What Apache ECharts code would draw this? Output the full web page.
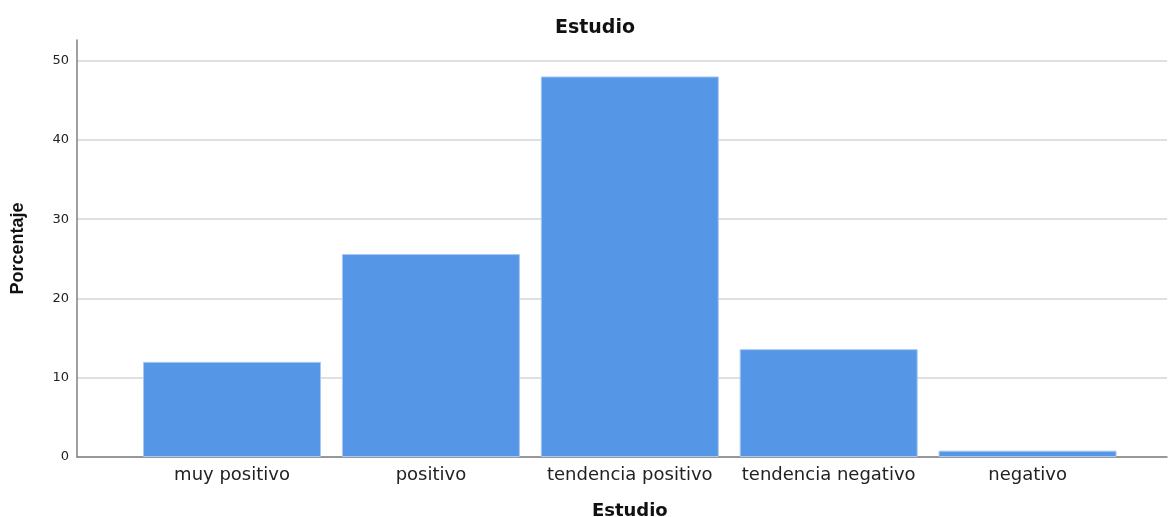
<!DOCTYPE html>
<html lang="es">
<head>
    <meta charset="UTF-8">
    <title>Estudio</title>
    <script src="https://cdn.jsdelivr.net/npm/echarts@6.0.0/dist/echarts.min.js"></script>
</head>
<body style="margin:0">
<div id="chart" style="width: 1169px;height:517px;"></div>
</body>
<script>
    var categories = ['muy positivo', 'positivo', 'tendencia positivo', 'tendencia negativo', 'negativo'];
    var porcentaje = [12.0, 25.6, 48.0, 13.6, 0.8];
    var yTicks = [0, 10, 20, 30, 40, 50];

    var yTop = 52.6;
    var font = '"DejaVu Sans", sans-serif';

    echarts.init(document.getElementById('chart')).setOption({
        animation: false,
        title: {
            text: 'Estudio',
            left: 590,
            textAlign: 'center',
            top: 14,
            textStyle: {fontFamily: font, fontSize: 19, fontWeight: 'bold', color: '#111'}
        },
        grid: [
            {left: 77, right: 2, top: 40, bottom: 60, outerBoundsMode: 'none'},
            {left: 132.6, right: 42, top: 40, bottom: 60, outerBoundsMode: 'none'}
        ],
        xAxis: [
            {
                gridIndex: 0, type: 'value', min: 0, max: 1,
                axisLine: {show: true, lineStyle: {color: '#808080', width: 1.5}},
                axisTick: {show: false}, axisLabel: {show: false}, splitLine: {show: false}
            },
            {
                gridIndex: 1, type: 'category', data: categories,
                axisLine: {show: false}, axisTick: {show: false},
                axisLabel: {fontFamily: font, fontSize: 18, color: '#222', margin: 9, interval: 0, hideOverlap: false},
                name: 'Estudio', nameLocation: 'middle', nameGap: 45,
                nameTextStyle: {fontFamily: font, fontSize: 18, fontWeight: 'bold', color: '#111'}
            }
        ],
        yAxis: [
            {
                gridIndex: 0, type: 'value', min: yTicks[0], max: yTop, interval: 10,
                axisLine: {show: true, lineStyle: {color: '#808080', width: 1.5}},
                axisTick: {show: false},
                axisLabel: {
                    fontFamily: font, fontSize: 13, color: '#222', margin: 8,
                    formatter: function (v) { return yTicks.indexOf(v) >= 0 ? String(v) : ''; }
                },
                splitLine: {
                    show: true,
                    lineStyle: {
                        color: ['#d6d6d6', '#d6d6d6', '#d6d6d6', '#d6d6d6', '#d6d6d6', '#d6d6d6', 'rgba(0,0,0,0)'],
                        width: 1.5
                    }
                },
                name: 'Porcentaje', nameLocation: 'middle', nameRotate: 90, nameGap: 50,
                nameTextStyle: {fontFamily: '"Liberation Sans", Arial, sans-serif', fontSize: 18, fontWeight: 'bold', color: '#111'}
            },
            {
                gridIndex: 1, type: 'value', min: yTicks[0], max: yTop,
                show: false, splitLine: {show: false}
            }
        ],
        series: [
            {
                type: 'bar',
                xAxisIndex: 1,
                yAxisIndex: 1,
                data: porcentaje,
                barWidth: 178,
                itemStyle: {color: '#5596e6', borderColor: '#a9c9f2', borderWidth: 1}
            }
        ]
    });
</script>
</html>
